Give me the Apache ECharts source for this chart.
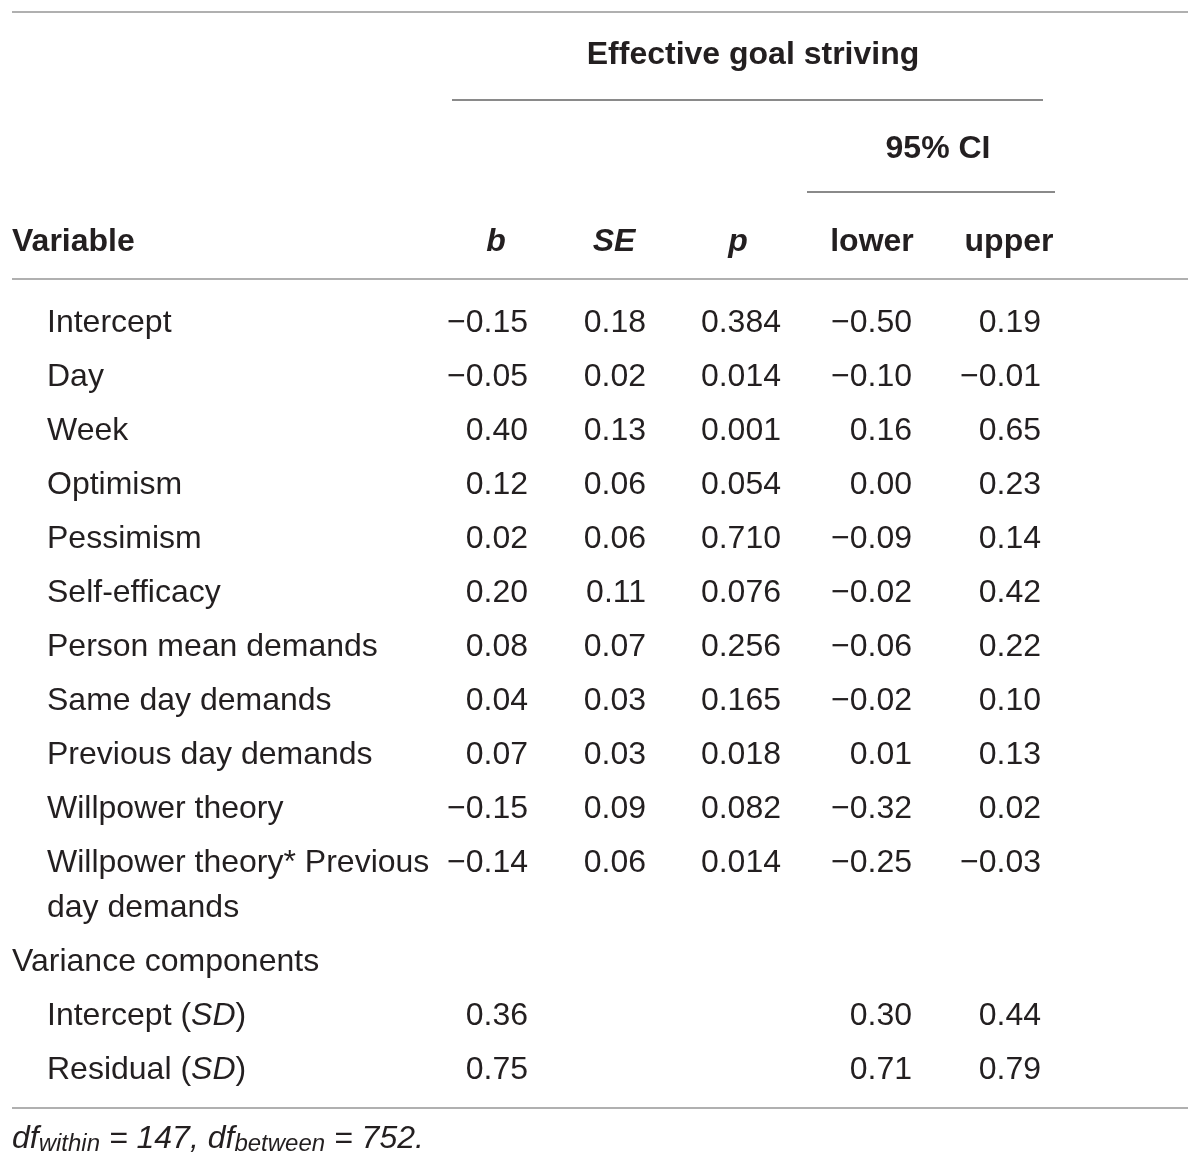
<!DOCTYPE html>
<html><head><meta charset="utf-8">
<script src="https://cdn.jsdelivr.net/npm/echarts@6/dist/echarts.min.js"></script>
<style>html,body{margin:0;padding:0;background:#fff}#c{width:1200px;height:1170px}</style>
</head><body><div id="c"></div>
<script>
// ---- table content ----
const title = 'Effective goal striving';
const ciTitle = '95% CI';
const firstHeader = 'Variable';
const columns = ['b', 'SE', 'p', 'lower', 'upper'];
const variables = ['Intercept', 'Day', 'Week', 'Optimism', 'Pessimism', 'Self-efficacy',
  'Person mean demands', 'Same day demands', 'Previous day demands', 'Willpower theory',
  'Willpower theory* Previous\nday demands'];
const bValues = [-0.15, -0.05, 0.40, 0.12, 0.02, 0.20, 0.08, 0.04, 0.07, -0.15, -0.14];
const seValues = [0.18, 0.02, 0.13, 0.06, 0.06, 0.11, 0.07, 0.03, 0.03, 0.09, 0.06];
const pValues = [0.384, 0.014, 0.001, 0.054, 0.710, 0.076, 0.256, 0.165, 0.018, 0.082, 0.014];
const lowerValues = [-0.50, -0.10, 0.16, 0.00, -0.09, -0.02, -0.06, -0.02, 0.01, -0.32, -0.25];
const upperValues = [0.19, -0.01, 0.65, 0.23, 0.14, 0.42, 0.22, 0.10, 0.13, 0.02, -0.03];
const varianceLabel = 'Variance components';
const varianceNames = ['Intercept', 'Residual'];
const varianceB = [0.36, 0.75];
const varianceLower = [0.30, 0.71];
const varianceUpper = [0.44, 0.79];
const dfWithin = 147;
const dfBetween = 752;

// ---- layout & style (not data) ----
const L = {
  left: 12, indent: 47, right: 1188,
  colRight: [528, 646, 781, 912, 1041],
  headCenter: [496, 614, 738, 872, 1009],
  titleCenter: 753, ciCenter: 938,
  yTitle: 55, yCI: 149, yHead: 242,
  firstRow: 323, rowStep: 54, wrapLine: 45,
  titleRule: [452, 1043, 100], ciRule: [807, 1055, 192],
  topRule: 12, headRule: 279, bottomRule: 1108, yFoot: 1143
};
const FONT = "'Liberation Sans', Arial, Helvetica, sans-serif";
const FS = 32;
const TXT = '#231f20';
const LIGHT = '#b0b0b0', DARK = '#8a8a8a';

function fmt(v, d) {
  const s = Math.abs(v).toFixed(d);
  return (v < 0 ? '\u2212' : '') + s;
}

const items = [];
function addText(x, y, text, align, extra) {
  items.push({
    value: [x, y],
    label: Object.assign({
      show: true, position: 'inside', formatter: text, align: align, verticalAlign: 'middle',
      fontFamily: FONT, fontSize: FS, color: TXT, opacity: 1
    }, extra || {})
  });
}

// headers
addText(L.titleCenter, L.yTitle, title, 'center', { fontWeight: 'bold' });
addText(L.ciCenter, L.yCI, ciTitle, 'center', { fontWeight: 'bold' });
addText(L.left, L.yHead, firstHeader, 'left', { fontWeight: 'bold' });
columns.forEach((c, i) => {
  const italic = i < 3;
  addText(L.headCenter[i], L.yHead, c, 'center', { fontWeight: 'bold', fontStyle: italic ? 'italic' : 'normal' });
});

// body rows
let y = L.firstRow;
const cols = [[bValues, 2], [seValues, 2], [pValues, 3], [lowerValues, 2], [upperValues, 2]];
variables.forEach((v, r) => {
  const wrapped = v.indexOf('\n') >= 0;
  if (wrapped) {
    addText(L.indent, y - L.wrapLine / 2, v, 'left', { verticalAlign: 'top', lineHeight: L.wrapLine });
  } else {
    addText(L.indent, y, v, 'left');
  }
  cols.forEach((c, i) => addText(L.colRight[i], y, fmt(c[0][r], c[1]), 'right'));
  y += L.rowStep + (wrapped ? L.wrapLine : 0);
});

// variance components
addText(L.left, y, varianceLabel, 'left');
y += L.rowStep;
varianceNames.forEach((n, r) => {
  addText(L.indent, y, '{n|' + n + ' (}{i|SD}{n|)}', 'left', {
    rich: {
      n: { fontFamily: FONT, fontSize: FS, color: TXT },
      i: { fontFamily: FONT, fontSize: FS, color: TXT, fontStyle: 'italic' }
    }
  });
  addText(L.colRight[0], y, fmt(varianceB[r], 2), 'right');
  addText(L.colRight[3], y, fmt(varianceLower[r], 2), 'right');
  addText(L.colRight[4], y, fmt(varianceUpper[r], 2), 'right');
  y += L.rowStep;
});

// footnote
const mainTok = { fontFamily: FONT, fontSize: FS, color: TXT, fontStyle: 'italic', lineHeight: 40, verticalAlign: 'top' };
const subTok = { fontFamily: FONT, fontSize: 24, color: TXT, fontStyle: 'italic', lineHeight: 40, verticalAlign: 'top', padding: [9, 0, 0, 0] };
addText(L.left, L.yFoot - 20,
  '{m|df}{s|within}{m| = ' + dfWithin + ', df}{s|between}{m| = ' + dfBetween + '.}', 'left',
  { verticalAlign: 'top', rich: { m: mainTok, s: subTok } });

// rules
const rules = [
  { coords: [[L.left, L.topRule], [L.right, L.topRule]], lineStyle: { color: LIGHT, width: 2 } },
  { coords: [[L.titleRule[0], L.titleRule[2]], [L.titleRule[1], L.titleRule[2]]], lineStyle: { color: DARK, width: 2 } },
  { coords: [[L.ciRule[0], L.ciRule[2]], [L.ciRule[1], L.ciRule[2]]], lineStyle: { color: DARK, width: 2 } },
  { coords: [[L.left, L.headRule], [L.right, L.headRule]], lineStyle: { color: LIGHT, width: 2 } },
  { coords: [[L.left, L.bottomRule], [L.right, L.bottomRule]], lineStyle: { color: LIGHT, width: 2 } }
];

const chart = echarts.init(document.getElementById('c'), null, { renderer: 'canvas' });
chart.setOption({
  animation: false,
  backgroundColor: '#ffffff',
  grid: { left: 0, right: 0, top: 0, bottom: 0 },
  xAxis: { type: 'value', min: 0, max: 1200, show: false },
  yAxis: { type: 'value', min: 0, max: 1170, inverse: true, show: false },
  series: [
    { type: 'lines', coordinateSystem: 'cartesian2d', silent: true, data: rules, z: 1,
      lineStyle: { opacity: 1 } },
    { type: 'scatter', symbolSize: 0, silent: true, data: items, z: 2,
      itemStyle: { opacity: 1 }, emphasis: { disabled: true } }
  ]
});
</script></body></html>
